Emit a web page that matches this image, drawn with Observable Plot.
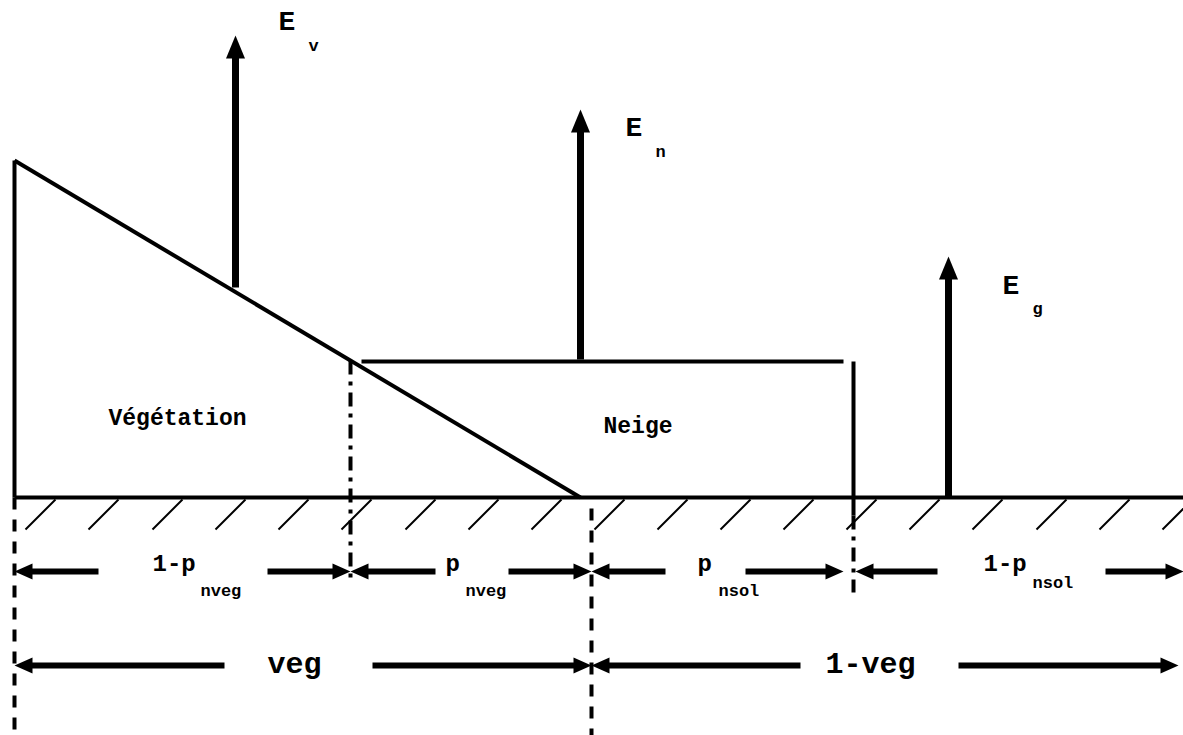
<!DOCTYPE html>
<html>
<head>
<meta charset="utf-8">
<script src="https://cdn.jsdelivr.net/npm/d3@7"></script>
<script src="https://cdn.jsdelivr.net/npm/@observablehq/plot@0.6"></script>
<style>
  html, body { margin: 0; padding: 0; background: #fff; overflow: hidden; }
</style>
</head>
<body>
<div id="chart"></div>
<script>
// ---- Diagram geometry (pixel units of the 1183x735 drawing) ----
// outline of vegetation, ground and snow pack
const outlineX1 = [14, 14, 14, 361, 853];
const outlineY1 = [160, 160, 497, 361, 361];
const outlineX2 = [14, 580, 1183, 843, 853];
const outlineY2 = [497, 497, 497, 361, 515];

// dashed and dash-dot boundary lines
const dashedX = [14, 591];
const dashedTop = [497, 508];
const dashedBottom = [735, 735];
const dashDotX = [350, 853];
const dashDotTop = [360, 515];
const dashDotBottom = [582, 592];

// ground hatching (top x of each stroke)
const hatchTops = [55, 118, 182, 245, 308, 371, 435, 498, 561, 624, 687, 750, 813, 876, 939, 1002, 1066, 1129, 1192];
const groundY = 497;

// flux arrows E_v, E_n, E_g
const fluxMain = ["E", "E", "E"];
const fluxSub = ["v", "n", "g"];
const fluxX = [235, 580, 948];
const fluxBase = [287, 359, 497];
const fluxTip = [35, 109, 256];
const fluxLabelX = [278, 625, 1002];
const fluxLabelY = [29, 135, 293];
const fluxSubX = [308, 655, 1032];
const fluxSubY = [50, 156, 313];

// dimension arrows
const dimMain = ["1-p", "p", "p", "1-p", "veg", "1-veg"];
const dimSub = ["nveg", "nveg", "nsol", "nsol", "", ""];
const dimStart = [14, 350, 591, 855, 14, 591];
const dimEnd = [350, 591, 843, 1183, 591, 1178];
const dimGapStart = [98, 435, 665, 937, 224, 800];
const dimGapEnd = [267, 508, 745, 1105, 372, 958];
const dimY = [571, 571, 571, 571, 665, 665];
const dimMainX = [152, 445, 697, 983, 267, 825];
const dimMainY = [570, 570, 570, 570, 672, 672];
const dimSubX = [200, 465, 718, 1032, null, null];
const dimSubY = [595, 595, 595, 587, null, null];

// region names
const regionNames = ["Végétation", "Neige"];
const regionX = [108, 603];
const regionY = [424, 432];

// ---- build tables ----
const outline = outlineX1.map((d, i) => ({x1: d, y1: outlineY1[i], x2: outlineX2[i], y2: outlineY2[i]}));
const dashed = dashedX.map((x, i) => ({x, y1: dashedTop[i], y2: dashedBottom[i]}));
const dashDot = dashDotX.map((x, i) => ({x, y1: dashDotTop[i], y2: dashDotBottom[i]}));
const hatchLen = 30;
const hatches = hatchTops.map(x => ({x1: x, y1: groundY + 2, x2: x - hatchLen, y2: groundY + 2 + hatchLen}));
const flux = fluxX.map((x, i) => ({x, base: fluxBase[i], tip: fluxTip[i], main: fluxMain[i], sub: fluxSub[i],
  lx: fluxLabelX[i], ly: fluxLabelY[i], sx: fluxSubX[i], sy: fluxSubY[i]}));
const dims = dimMain.map((m, i) => ({main: m, sub: dimSub[i], x1: dimStart[i], x2: dimEnd[i],
  g1: dimGapStart[i], g2: dimGapEnd[i], y: dimY[i], mx: dimMainX[i], my: dimMainY[i], sx: dimSubX[i], sy: dimSubY[i], big: i >= 4}));
const regions = regionNames.map((n, i) => ({name: n, x: regionX[i], y: regionY[i]}));

// custom arrowhead symbols (tip at origin)
function head(dir, len, half) {
  return {
    draw(ctx) {
      ctx.moveTo(0, 0);
      if (dir === "up") { ctx.lineTo(-half, len); ctx.lineTo(half, len); }
      else if (dir === "right") { ctx.lineTo(-len, -half); ctx.lineTo(-len, half); }
      else { ctx.lineTo(len, -half); ctx.lineTo(len, half); }
      ctx.closePath();
    }
  };
}
const upHead = head("up", 23, 9.5);
const rightHead = head("right", 18, 8);
const leftHead = head("left", 18, 8);

const font = "'Liberation Mono', 'Courier New', 'DejaVu Sans Mono', monospace";

const chart = Plot.plot({
  width: 1183,
  height: 735,
  margin: 0,
  x: {domain: [0, 1183], range: [0, 1183], axis: null},
  y: {domain: [0, 735], range: [0, 735], axis: null},
  style: {background: "white", overflow: "hidden"},
  marks: [
    // hatching
    Plot.link(hatches, {x1: "x1", y1: "y1", x2: "x2", y2: "y2", stroke: "black", strokeWidth: 2}),
    // outline
    Plot.link(outline, {x1: "x1", y1: "y1", x2: "x2", y2: "y2", stroke: "black", strokeWidth: 4, strokeLinecap: "butt", strokeLinejoin: "miter"}),
    // dashed boundaries
    Plot.link(dashed, {x1: "x", y1: "y1", x2: "x", y2: "y2", stroke: "black", strokeWidth: 4, strokeDasharray: "12,10"}),
    Plot.link(dashDot, {x1: "x", y1: "y1", x2: "x", y2: "y2", stroke: "black", strokeWidth: 4, strokeDasharray: "14,7,4,7"}),
    // flux arrows
    Plot.link(flux, {x1: "x", y1: "base", x2: "x", y2: d => d.tip + 20, stroke: "black", strokeWidth: 7}),
    Plot.dot(flux, {x: "x", y: "tip", symbol: upHead, r: 5, fill: "black", stroke: "none"}),
    Plot.text(flux, {x: "lx", y: "ly", text: "main", fontFamily: font, fontWeight: "bold", fontSize: 28, textAnchor: "start", lineAnchor: "bottom", fill: "black"}),
    Plot.text(flux, {x: "sx", y: "sy", text: "sub", fontFamily: font, fontWeight: "bold", fontSize: 17, textAnchor: "start", lineAnchor: "bottom", fill: "black"}),
    // dimension arrows
    Plot.link(dims, {x1: d => d.x1 + 10, y1: "y", x2: "g1", y2: "y", stroke: "black", strokeWidth: 6}),
    Plot.link(dims, {x1: "g2", y1: "y", x2: d => d.x2 - 10, y2: "y", stroke: "black", strokeWidth: 6}),
    Plot.dot(dims, {x: "x1", y: "y", symbol: leftHead, r: 5, fill: "black", stroke: "none"}),
    Plot.dot(dims, {x: "x2", y: "y", symbol: rightHead, r: 5, fill: "black", stroke: "none"}),
    Plot.text(dims.filter(d => !d.big), {x: "mx", y: "my", text: "main", fontFamily: font, fontWeight: "bold", fontSize: 24, textAnchor: "start", lineAnchor: "bottom", fill: "black"}),
    Plot.text(dims.filter(d => d.big), {x: "mx", y: "my", text: "main", fontFamily: font, fontWeight: "bold", fontSize: 30, textAnchor: "start", lineAnchor: "bottom", fill: "black"}),
    Plot.text(dims.filter(d => d.sub), {x: "sx", y: "sy", text: "sub", fontFamily: font, fontWeight: "bold", fontSize: 17, textAnchor: "start", lineAnchor: "bottom", fill: "black"}),
    // region labels
    Plot.text(regions, {x: "x", y: "y", text: "name", fontFamily: font, fontWeight: "bold", fontSize: 23, textAnchor: "start", lineAnchor: "bottom", fill: "black"})
  ]
});
document.getElementById("chart").appendChild(chart);
</script>
</body>
</html>
